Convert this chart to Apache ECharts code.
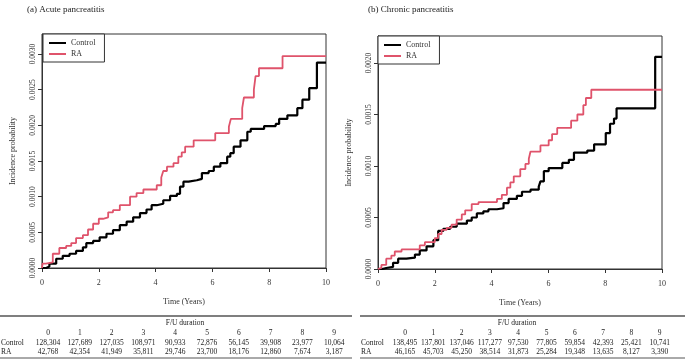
<!DOCTYPE html>
<html>
<head>
<meta charset="utf-8">
<script src="https://cdn.jsdelivr.net/npm/echarts@6/dist/echarts.min.js"></script>
<style>
  html, body { margin: 0; padding: 0; background: #fff; }
  #chart { width: 685px; height: 359px; }
</style>
</head>
<body>
<div id="chart"></div>
<script>
// (a) acute pancreatitis - cumulative incidence, step points [years]
var acuteCtrlT = [0, 0.15, 0.26, 0.5, 0.73, 0.97, 1.2, 1.44, 1.56, 1.8, 2.03, 2.27, 2.5, 2.74, 2.98, 3.21, 3.45, 3.68, 3.86, 4.04, 4.27, 4.51, 4.75, 4.86, 4.98, 5.16, 5.45, 5.63, 5.87, 6.05, 6.28, 6.52, 6.63, 6.75, 6.99, 7.23, 7.35, 7.82, 8.23, 8.35, 8.64, 8.99, 9.17, 9.41, 9.68, 10];
var acuteCtrlP = [0, 0.00002, 0.00006, 0.00013, 0.00017, 0.0002, 0.00024, 0.00029, 0.00035, 0.00038, 0.00043, 0.00048, 0.00053, 0.0006, 0.00065, 0.00071, 0.00077, 0.00082, 0.00088, 0.0009, 0.00095, 0.00101, 0.00104, 0.00114, 0.00121, 0.00123, 0.00125, 0.00133, 0.00136, 0.00142, 0.00147, 0.00156, 0.00161, 0.0017, 0.00179, 0.00191, 0.00195, 0.00199, 0.00202, 0.00209, 0.00214, 0.00224, 0.00236, 0.00252, 0.00288, 0.00288];
var acuteRaT = [0, 0.02, 0.14, 0.38, 0.61, 0.85, 1.03, 1.2, 1.44, 1.62, 1.8, 2.0, 2.15, 2.33, 2.5, 2.74, 3.1, 3.33, 3.57, 4.04, 4.2, 4.27, 4.4, 4.63, 4.8, 4.92, 5.04, 5.34, 6.1, 6.58, 6.65, 7.05, 7.11, 7.46, 7.52, 7.64, 8.47, 10];
var acuteRaP = [0, 0.00006, 0.00008, 0.0002, 0.00028, 0.00031, 0.00035, 0.00042, 0.00046, 0.00054, 0.00062, 0.00069, 0.00071, 0.00078, 0.00081, 0.00088, 0.001, 0.00105, 0.0011, 0.00116, 0.00127, 0.00136, 0.00142, 0.00147, 0.00156, 0.00162, 0.0017, 0.00179, 0.00189, 0.00198, 0.00209, 0.00224, 0.00239, 0.0025, 0.00269, 0.0028, 0.00297, 0.00297];

// (b) chronic pancreatitis
var chronCtrlT = [0, 0.15, 0.29, 0.53, 0.71, 1.0, 1.3, 1.47, 1.71, 1.95, 2.12, 2.3, 2.54, 2.77, 3.13, 3.3, 3.48, 3.71, 3.89, 4.19, 4.42, 4.6, 4.89, 5.07, 5.37, 5.66, 5.72, 5.84, 6.01, 6.49, 6.72, 6.9, 7.37, 7.61, 8.02, 8.17, 8.31, 8.4, 9.76, 10];
var chronCtrlP = [0, 0.00001, 0.00002, 0.00006, 0.0001, 0.00011, 0.00014, 0.00018, 0.00022, 0.00028, 0.00037, 0.00039, 0.00041, 0.00044, 0.00047, 0.0005, 0.00054, 0.00056, 0.00058, 0.00059, 0.00064, 0.00068, 0.00071, 0.00075, 0.00077, 0.0008, 0.00085, 0.00095, 0.00098, 0.00103, 0.00106, 0.00113, 0.00115, 0.00121, 0.00132, 0.00141, 0.00146, 0.00156, 0.00206, 0.00206];
var chronRaT = [0, 0.04, 0.12, 0.29, 0.47, 0.59, 0.83, 1.47, 1.65, 2.0, 2.12, 2.24, 2.42, 2.59, 2.77, 2.95, 3.07, 3.3, 3.54, 4.19, 4.36, 4.54, 4.66, 4.78, 5.01, 5.19, 5.31, 5.37, 5.72, 6.01, 6.13, 6.31, 6.8, 7.02, 7.23, 7.32, 7.51, 10];
var chronRaP = [0, 0.00001, 0.00004, 0.0001, 0.00013, 0.00017, 0.00019, 0.00023, 0.00026, 0.0003, 0.00034, 0.00038, 0.0004, 0.00043, 0.00048, 0.00053, 0.00057, 0.00063, 0.00065, 0.00068, 0.00072, 0.00079, 0.00084, 0.0009, 0.00097, 0.00102, 0.00107, 0.00114, 0.0012, 0.00125, 0.00131, 0.00137, 0.00144, 0.0015, 0.00159, 0.00166, 0.00174, 0.00174];

// number at risk tables
var fuYears = ['0', '1', '2', '3', '4', '5', '6', '7', '8', '9'];
var acuteRiskCtrl = ['128,304', '127,689', '127,035', '108,971', '90,933', '72,876', '56,145', '39,908', '23,977', '10,064'];
var acuteRiskRa = ['42,768', '42,354', '41,949', '35,811', '29,746', '23,700', '18,176', '12,860', '7,674', '3,187'];
var chronRiskCtrl = ['138,495', '137,801', '137,046', '117,277', '97,530', '77,805', '59,854', '42,393', '25,421', '10,741'];
var chronRiskRa = ['46,165', '45,703', '45,250', '38,514', '31,873', '25,284', '19,348', '13,635', '8,127', '3,390'];

var xTicks = [0, 2, 4, 6, 8, 10];
var acuteYTicks = [0, 0.0005, 0.001, 0.0015, 0.002, 0.0025, 0.003];
var chronYTicks = [0, 0.0005, 0.001, 0.0015, 0.002];

var FONT = 'Liberation Serif';
var RED = '#DF536B';

function pairs(t, p) {
  return t.map(function (x, i) { return [x, p[i]]; });
}

function xAxisOf(idx) {
  return {
    type: 'value', gridIndex: idx, min: 0, max: 10, interval: 2,
    name: 'Time (Years)', nameLocation: 'middle', nameGap: 30,
    nameTextStyle: { fontFamily: FONT, fontSize: 8, color: '#333' },
    axisLine: { show: true, onZero: false, lineStyle: { color: '#333', width: 1 } },
    axisTick: { show: true, length: 4, lineStyle: { color: '#333' }, customValues: xTicks },
    axisLabel: { fontFamily: FONT, fontSize: 8, color: '#333', margin: 11, customValues: xTicks },
    splitLine: { show: false }
  };
}

function yAxisOf(idx, max, ticks) {
  return {
    type: 'value', gridIndex: idx, min: 0, max: max,
    name: 'Incidence probability', nameLocation: 'middle', nameGap: 25,
    nameTextStyle: { fontFamily: FONT, fontSize: 8, color: '#333' },
    axisLine: { show: true, lineStyle: { color: '#333', width: 1 } },
    axisTick: { show: true, length: 4, lineStyle: { color: '#333' }, customValues: ticks },
    axisLabel: {
      fontFamily: FONT, fontSize: 7.5, color: '#333', rotate: 90, margin: 5,
      customValues: ticks,
      formatter: function (v) { return v.toFixed(4); }
    },
    splitLine: { show: false }
  };
}

function lineSeries(name, idx, data, color, width) {
  return {
    name: name, type: 'line', xAxisIndex: idx, yAxisIndex: idx,
    step: 'end', showSymbol: false, symbol: 'none', animation: false,
    data: data, lineStyle: { color: color, width: width }, itemStyle: { color: color }
  };
}

function legendOf(left, top) {
  return {
    data: ['Control', 'RA'], orient: 'vertical', left: left, top: top,
    icon: 'rect', itemWidth: 17, itemHeight: 2, itemGap: 3,
    padding: [5, 9, 4, 6], borderColor: '#333', borderWidth: 1,
    backgroundColor: '#fff', selectedMode: false,
    textStyle: { fontFamily: FONT, fontSize: 8, color: '#333' }
  };
}

// risk table built as graphic text
function riskTable(x0, x1, labelX, colX, colStep, ctrl, ra, titleX) {
  var els = [];
  var txt = function (x, y, s, align) {
    els.push({ type: 'text', x: x, y: y, style: {
      text: s, fontFamily: FONT, fontSize: 7.5, fill: '#222', align: align, verticalAlign: 'middle' } });
  };
  els.push({ type: 'line', shape: { x1: x0, y1: 316, x2: x1, y2: 316 }, style: { stroke: '#555', lineWidth: 1.5 } });
  els.push({ type: 'line', shape: { x1: x0, y1: 358, x2: x1, y2: 358 }, style: { stroke: '#555', lineWidth: 1 } });
  txt(titleX, 323, 'F/U duration', 'center');
  txt(labelX, 343, 'Control', 'left');
  txt(labelX, 352, 'RA', 'left');
  fuYears.forEach(function (y, i) {
    var cx = colX + colStep * i;
    txt(cx, 333, y, 'center');
    txt(cx, 343, ctrl[i], 'center');
    txt(cx, 352, ra[i], 'center');
  });
  return els;
}

var chart = echarts.init(document.getElementById('chart'));
var option = {
  animation: false,
  backgroundColor: '#fff',
  title: [
    { text: '(a) Acute pancreatitis', left: 22, top: 0, textStyle: { fontFamily: FONT, fontSize: 9, fontWeight: 'normal', color: '#222' } },
    { text: '(b) Chronic pancreatitis', left: 363, top: 0, textStyle: { fontFamily: FONT, fontSize: 9, fontWeight: 'normal', color: '#222' } }
  ],
  grid: [
    { left: 42, top: 34, width: 284, height: 234, show: true, borderColor: '#333', borderWidth: 1 },
    { left: 378, top: 36, width: 284, height: 233, show: true, borderColor: '#333', borderWidth: 1 }
  ],
  legend: [legendOf(43, 34), legendOf(378, 36)],
  xAxis: [xAxisOf(0), xAxisOf(1)],
  yAxis: [yAxisOf(0, 0.00328, acuteYTicks), yAxisOf(1, 0.002262, chronYTicks)],
  series: [
    lineSeries('Control', 0, pairs(acuteCtrlT, acuteCtrlP), '#000', 2.2),
    lineSeries('RA', 0, pairs(acuteRaT, acuteRaP), RED, 1.8),
    lineSeries('Control', 1, pairs(chronCtrlT, chronCtrlP), '#000', 2.2),
    lineSeries('RA', 1, pairs(chronRaT, chronRaP), RED, 1.8)
  ],
  graphic: riskTable(0, 352, 1, 48, 31.8, acuteRiskCtrl, acuteRiskRa, 185)
    .concat(riskTable(360, 685, 361, 405, 28.3, chronRiskCtrl, chronRiskRa, 517))
};
chart.setOption(option);
</script>
</body>
</html>
